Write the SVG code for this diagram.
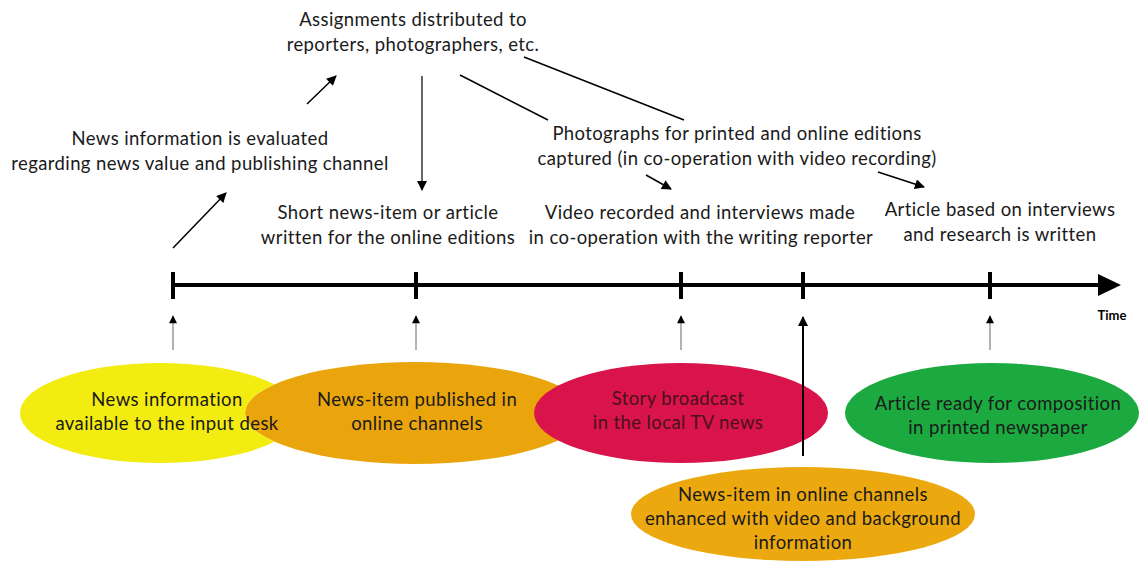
<svg xmlns="http://www.w3.org/2000/svg" width="1139" height="564" viewBox="0 0 1139 564">
  <style>
    .lbl { font-family: Lato, "Liberation Sans", sans-serif; font-size: 18.5px; letter-spacing: 0.4px; fill: #1a1a1a; text-anchor: middle; }
    .red-lbl { fill: #4a0f1c; }
    .axis { stroke: #000; stroke-width: 4; fill: none; }
    .tick { stroke: #000; stroke-width: 4; }
    .flow { stroke: #000; stroke-width: 1.5; fill: none; }
    .thin { stroke: #000; stroke-width: 1.2; fill: none; }
    .pin { stroke: #666; stroke-width: 1; fill: none; }
    .pin-strong { stroke: #000; stroke-width: 2; fill: none; }
  </style>
  <defs>
    <marker id="head" viewBox="0 0 10 10" refX="9" refY="5" markerWidth="11" markerHeight="10" markerUnits="userSpaceOnUse" orient="auto">
      <path d="M0,0 L10,5 L0,10 Z" fill="#000"/>
    </marker>
    <marker id="head-small" viewBox="0 0 10 10" refX="9" refY="5" markerWidth="9" markerHeight="8" markerUnits="userSpaceOnUse" orient="auto">
      <path d="M0,0 L10,5 L0,10 Z" fill="#000"/>
    </marker>
    <!-- keeps the yellow shape behind the overlapping orange one while its label stays on top -->
    <mask id="under-orange" maskUnits="userSpaceOnUse" x="0" y="0" width="1139" height="564">
      <rect x="0" y="0" width="1139" height="564" fill="#fff"/>
      <ellipse cx="415" cy="413" rx="170" ry="51" fill="#000"/>
    </mask>
  </defs>

  <!-- time axis -->
  <g id="timeline">
    <line class="axis" x1="172" y1="285" x2="1102" y2="285"/>
    <path d="M1098,274 L1121,285 L1098,296 Z" fill="#000"/>
    <line class="tick" x1="173" y1="272" x2="173" y2="299"/>
    <line class="tick" x1="416" y1="272" x2="416" y2="299"/>
    <line class="tick" x1="681" y1="272" x2="681" y2="299"/>
    <line class="tick" x1="803" y1="272" x2="803" y2="299"/>
    <line class="tick" x1="990" y1="272" x2="990" y2="299"/>
    <text x="1112" y="320" style="font-family: Lato, 'Liberation Sans', sans-serif; font-size: 13px; font-weight: bold; text-anchor: middle;">Time</text>
  </g>

  <!-- process steps above the axis -->
  <g id="step-assignments">
    <text class="lbl" x="413" y="26">Assignments distributed to</text>
    <text class="lbl" x="413" y="51">reporters, photographers, etc.</text>
  </g>
  <g id="step-evaluated">
    <text class="lbl" x="200" y="145">News information is evaluated</text>
    <text class="lbl" x="200" y="170">regarding news value and publishing channel</text>
  </g>
  <g id="step-short-item">
    <text class="lbl" x="388" y="219">Short news-item or article</text>
    <text class="lbl" x="388" y="244">written for the online editions</text>
  </g>
  <g id="step-photographs">
    <text class="lbl" x="737" y="140">Photographs for printed and online editions</text>
    <text class="lbl" x="737" y="165">captured (in co-operation with video recording)</text>
  </g>
  <g id="step-video">
    <text class="lbl" x="700" y="219">Video recorded and interviews made</text>
    <text class="lbl" x="701" y="244">in co-operation with the writing reporter</text>
  </g>
  <g id="step-article">
    <text class="lbl" x="1000" y="216">Article based on interviews</text>
    <text class="lbl" x="1000" y="241">and research is written</text>
  </g>

  <!-- outcomes below the axis -->
  <g id="out-orange-online">
    <ellipse cx="415" cy="413" rx="170" ry="51" fill="#eaa50c"/>
    <text class="lbl" x="417" y="406">News-item published in</text>
    <text class="lbl" x="417" y="430">online channels</text>
  </g>
  <g id="out-input-desk">
    <ellipse cx="160" cy="413" rx="140" ry="50" fill="#f2ec10" mask="url(#under-orange)"/>
    <text class="lbl" x="167" y="406">News information</text>
    <text class="lbl" x="167" y="430">available to the input desk</text>
  </g>
  <g id="out-tv">
    <ellipse cx="681" cy="413" rx="147" ry="50" fill="#d9144a"/>
    <text class="lbl red-lbl" x="678" y="405">Story broadcast</text>
    <text class="lbl red-lbl" x="678" y="429">in the local TV news</text>
  </g>
  <g id="out-print">
    <ellipse cx="992" cy="413" rx="147" ry="50" fill="#1caa40"/>
    <text class="lbl" x="998" y="410">Article ready for composition</text>
    <text class="lbl" x="998" y="434">in printed newspaper</text>
  </g>
  <g id="out-enhanced">
    <ellipse cx="803" cy="514" rx="172" ry="47" fill="#eca90f"/>
    <text class="lbl" x="803" y="501">News-item in online channels</text>
    <text class="lbl" x="803" y="525">enhanced with video and background</text>
    <text class="lbl" x="803" y="549">information</text>
  </g>

  <!-- connectors -->
  <g id="connectors">
    <line class="flow" x1="173" y1="248" x2="226" y2="193" marker-end="url(#head)"/>
    <line class="flow" x1="307" y1="104" x2="336" y2="76" marker-end="url(#head)"/>
    <line class="thin" x1="422" y1="76" x2="422" y2="190" marker-end="url(#head)"/>
    <line class="flow" x1="460" y1="75" x2="548" y2="120"/>
    <line class="flow" x1="524" y1="57" x2="684" y2="120"/>
    <line class="flow" x1="646" y1="175" x2="671" y2="189" marker-end="url(#head)"/>
    <line class="flow" x1="878" y1="172" x2="924" y2="187" marker-end="url(#head)"/>

    <line class="pin" x1="173" y1="350" x2="173" y2="316" marker-end="url(#head-small)"/>
    <line class="pin" x1="416" y1="350" x2="416" y2="316" marker-end="url(#head-small)"/>
    <line class="pin" x1="681" y1="350" x2="681" y2="316" marker-end="url(#head-small)"/>
    <line class="pin" x1="990" y1="350" x2="990" y2="316" marker-end="url(#head-small)"/>
    <line class="pin-strong" x1="803" y1="456" x2="803" y2="317" marker-end="url(#head)"/>
  </g>
</svg>
